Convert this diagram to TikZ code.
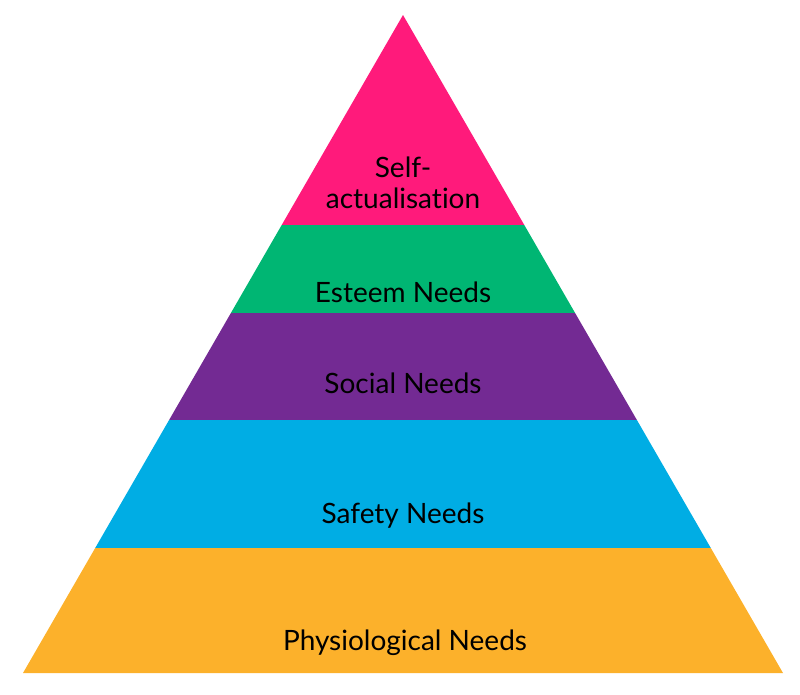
\documentclass[tikz,border=0pt]{standalone}
\usepackage{fontspec}
\setmainfont{Lato}[Ligatures={NoCommon,NoRequired,NoContextual}]
\definecolor{pinkband}{HTML}{FF1A7B}
\definecolor{greenband}{HTML}{00B673}
\definecolor{purpleband}{HTML}{732A93}
\definecolor{blueband}{HTML}{00ADE4}
\definecolor{orangeband}{HTML}{FCB12B}
\begin{document}
\begin{tikzpicture}[x=1pt,y=-1pt,
  band/.style={draw=none},
  lbl/.style={anchor=base,inner sep=0pt,font=\fontsize{28}{33}\selectfont,text=black}]
\useasboundingbox (0,0) rectangle (800,694);
\coordinate (A) at (403,15);
\coordinate (L1) at (281.7,225); \coordinate (R1) at (524.3,225);
\coordinate (L2) at (230.9,313); \coordinate (R2) at (575.1,313);
\coordinate (L3) at (169.1,420); \coordinate (R3) at (636.9,420);
\coordinate (L4) at (95.2,548);  \coordinate (R4) at (710.8,548);
\coordinate (L5) at (23,673);    \coordinate (R5) at (783,673);
\fill[pinkband]   (A) -- (R1) -- (L1) -- cycle;
\fill[greenband]  (L1) -- (R1) -- (R2) -- (L2) -- cycle;
\fill[purpleband] (L2) -- (R2) -- (R3) -- (L3) -- cycle;
\fill[blueband]   (L3) -- (R3) -- (R4) -- (L4) -- cycle;
\fill[orangeband] (L4) -- (R4) -- (R5) -- (L5) -- cycle;
\node[lbl] (self1) at (403,177) {Self-};
\node[lbl] (self2) at (403,208) {actualisation};
\node[lbl] (esteem) at (403,302) {Esteem Needs};
\node[lbl] (social) at (403,393) {Social Needs};
\node[lbl] (safety) at (403,523) {Safety Needs};
\node[lbl] (physio) at (405,650) {Physiological Needs};
\end{tikzpicture}
\end{document}
